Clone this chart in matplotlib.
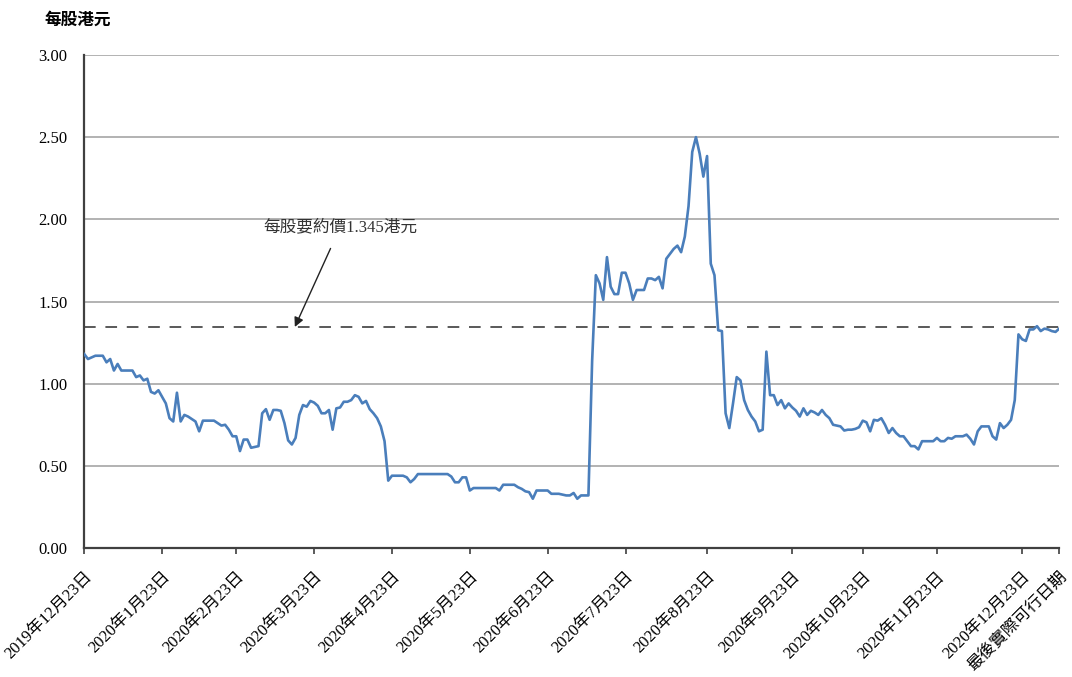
import matplotlib
matplotlib.use("Agg")
import matplotlib.pyplot as plt

plt.rcParams['font.family'] = ['Liberation Serif', 'Noto Sans CJK TC']
plt.rcParams['font.size'] = 12

# daily closing price (HK$ per share), one value per trading day
prices = [
    1.18, 1.15, 1.16, 1.17, 1.17, 1.17, 1.13, 1.15, 1.08, 1.12,
    1.08, 1.08, 1.08, 1.08, 1.04, 1.05, 1.02, 1.03, 0.95, 0.94,
    0.96, 0.92, 0.88, 0.79, 0.77, 0.945, 0.77, 0.81, 0.80, 0.785,
    0.77, 0.71, 0.775, 0.775, 0.775, 0.775, 0.76, 0.745, 0.75, 0.72,
    0.68, 0.68, 0.59, 0.66, 0.66, 0.61, 0.615, 0.62, 0.82, 0.845,
    0.78, 0.84, 0.84, 0.835, 0.76, 0.655, 0.63, 0.67, 0.81, 0.87,
    0.86, 0.895, 0.885, 0.865, 0.82, 0.82, 0.84, 0.72, 0.85, 0.855,
    0.89, 0.89, 0.90, 0.93, 0.92, 0.88, 0.895, 0.845, 0.82, 0.79,
    0.74, 0.65, 0.41, 0.44, 0.44, 0.44, 0.44, 0.43, 0.40, 0.42,
    0.45, 0.45, 0.45, 0.45, 0.45, 0.45, 0.45, 0.45, 0.45, 0.435,
    0.40, 0.40, 0.43, 0.43, 0.35, 0.365, 0.365, 0.365, 0.365, 0.365,
    0.365, 0.365, 0.35, 0.385, 0.385, 0.385, 0.385, 0.37, 0.36, 0.345,
    0.34, 0.30, 0.35, 0.35, 0.35, 0.35, 0.33, 0.33, 0.33, 0.325,
    0.32, 0.32, 0.335, 0.30, 0.32, 0.32, 0.32, 1.14, 1.66, 1.61,
    1.51, 1.77, 1.59, 1.545, 1.545, 1.675, 1.675, 1.61, 1.51, 1.57,
    1.57, 1.57, 1.64, 1.64, 1.63, 1.65, 1.58, 1.76, 1.79, 1.82,
    1.84, 1.80, 1.895, 2.08, 2.41, 2.50, 2.40, 2.26, 2.385, 1.73,
    1.66, 1.325, 1.32, 0.82, 0.73, 0.88, 1.04, 1.02, 0.90, 0.84,
    0.80, 0.77, 0.71, 0.72, 1.195, 0.93, 0.93, 0.87, 0.90, 0.85,
    0.88, 0.855, 0.835, 0.80, 0.85, 0.81, 0.835, 0.825, 0.81, 0.84,
    0.81, 0.79, 0.75, 0.745, 0.74, 0.715, 0.72, 0.72, 0.725, 0.735,
    0.775, 0.765, 0.71, 0.78, 0.775, 0.79, 0.75, 0.70, 0.73, 0.70,
    0.68, 0.68, 0.65, 0.62, 0.62, 0.60, 0.65, 0.65, 0.65, 0.65,
    0.67, 0.65, 0.65, 0.67, 0.665, 0.68, 0.68, 0.68, 0.69, 0.665,
    0.63, 0.71, 0.74, 0.74, 0.74, 0.68, 0.66, 0.76, 0.73, 0.75,
    0.78, 0.90, 1.30, 1.27, 1.26, 1.33, 1.33, 1.35, 1.32, 1.335,
    1.33, 1.32, 1.315, 1.335,
]

# trading-day index of each labelled date
tick_days = [0, 21, 41, 62, 83, 104, 125, 146, 168, 191, 210, 230, 253, 263]
tick_labels = [
    "2019年12月23日", "2020年1月23日", "2020年2月23日", "2020年3月23日",
    "2020年4月23日", "2020年5月23日", "2020年6月23日", "2020年7月23日",
    "2020年8月23日", "2020年9月23日", "2020年10月23日", "2020年11月23日",
    "2020年12月23日", "最後實際可行日期",
]
offer_price = 1.345

fig = plt.figure(figsize=(10.72, 6.77), dpi=100)
ax = fig.add_axes([0.0786, 0.1905, 0.9095, 0.7283])

ax.plot(range(len(prices)), prices, color='#4a7ebb', lw=1.9, zorder=3)
ax.axhline(offer_price, color='#595959', lw=1.4, dashes=(6, 5), zorder=2)

ax.set_xlim(0, len(prices) - 1)
ax.set_ylim(0, 3.0)
ax.set_yticks([0, 0.5, 1.0, 1.5, 2.0, 2.5, 3.0])
ax.set_yticklabels([f"{v:.2f}" for v in ax.get_yticks()])
ax.grid(axis='y', color='#a6a6a6', lw=1.2, zorder=0)
ax.set_axisbelow(True)

ax.set_xticks(tick_days)
ax.set_xticklabels(tick_labels, rotation=45, ha='right', rotation_mode='anchor')

for s in ['top', 'right']:
    ax.spines[s].set_visible(False)
for s in ['left', 'bottom']:
    ax.spines[s].set_color('#404040')
    ax.spines[s].set_linewidth(1.6)
ax.tick_params(axis='y', length=0, pad=12)
ax.tick_params(axis='x', length=4, width=1.2, color='#404040', pad=11)

ax.annotate("每股要約價1.345港元", xy=(56.8, offer_price), xytext=(69, 1.95),
            ha='center', va='center', fontsize=12, color='#333333',
            arrowprops=dict(arrowstyle='-|>', color='#222222', lw=1,
                            mutation_scale=14, shrinkA=8, shrinkB=0))

fig.text(0.042, 0.97, "每股港元", fontsize=12, fontweight='bold',
         ha='left', va='center')

fig.savefig("out.png", dpi=100)
